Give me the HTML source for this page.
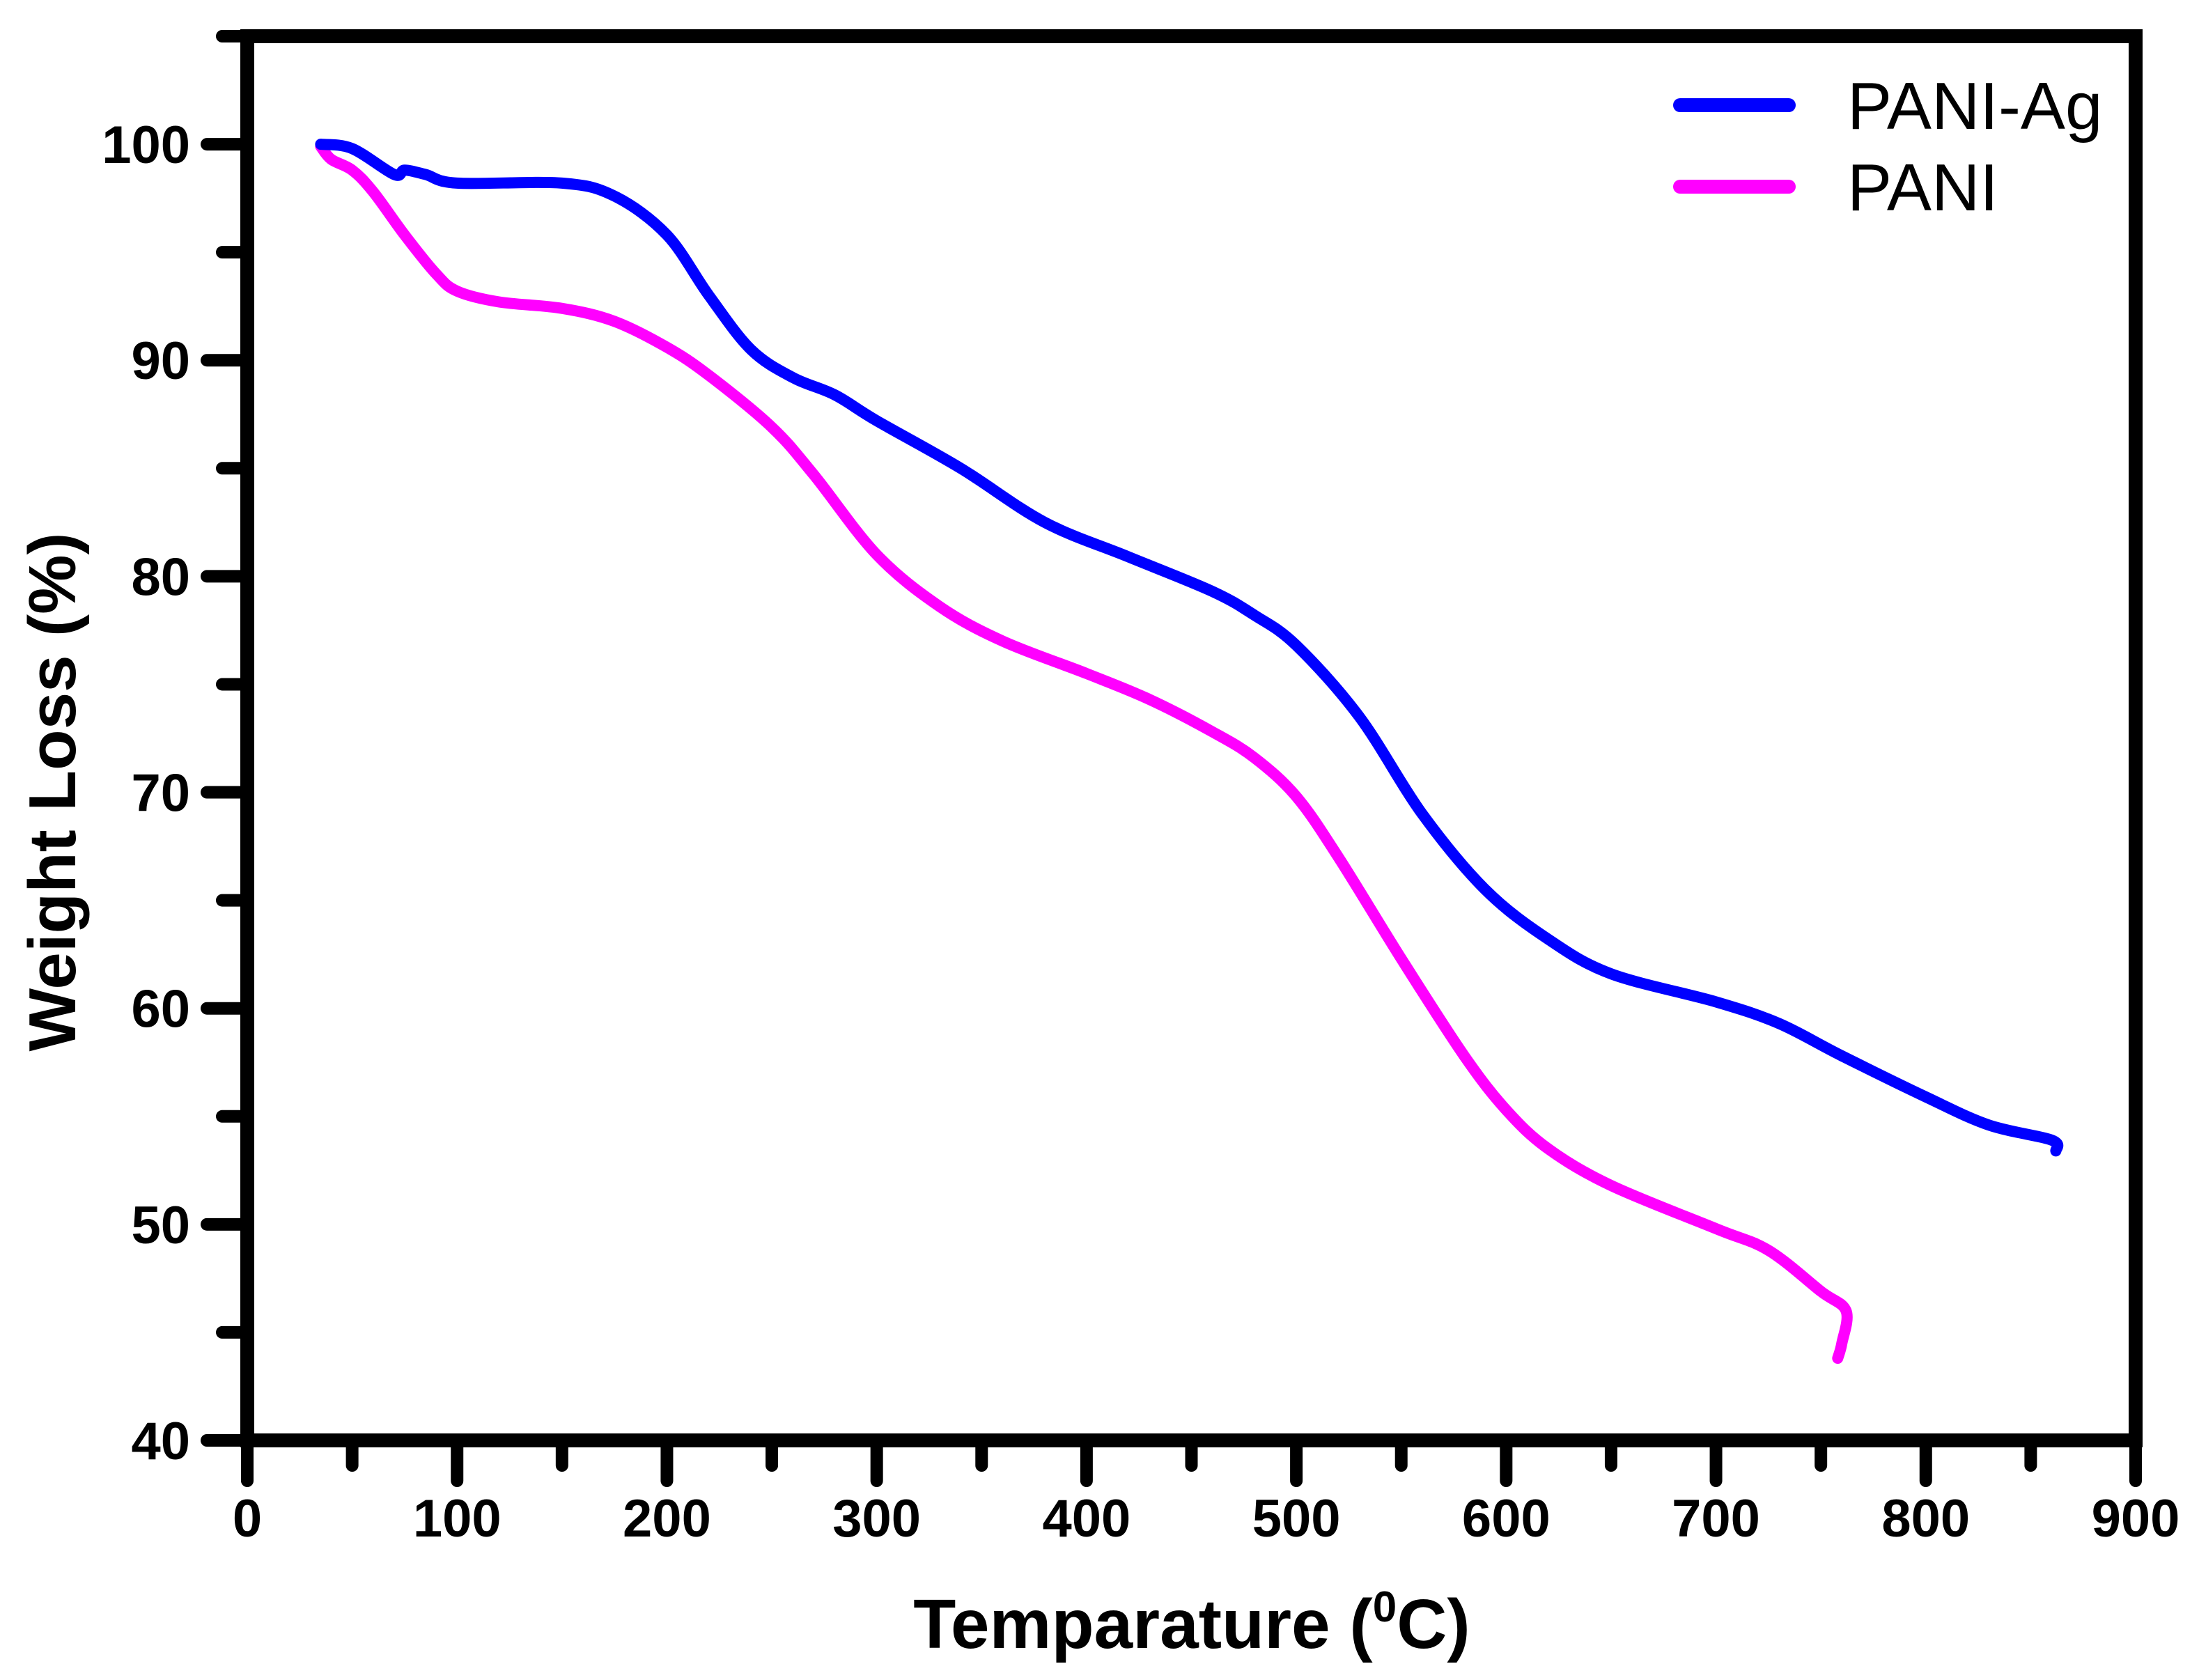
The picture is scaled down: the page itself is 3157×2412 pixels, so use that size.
<!DOCTYPE html>
<html><head><meta charset="utf-8"><style>
html,body{margin:0;padding:0;background:#fff}
svg{display:block}
text{font-family:"Liberation Sans",Arial,sans-serif}
</style></head><body>
<svg id="chart" width="3157" height="2412" viewBox="0 0 3157 2412" xmlns="http://www.w3.org/2000/svg">
<g id="plot"></g>
</svg>
<script>
const xTicks=[0,100,200,300,400,500,600,700,800,900];
const yTicks=[40,50,60,70,80,90,100];
const agT=[35,50,70,75,85,100,150,175,200,220,240,260,280,300,340,380,420,460,480,500,530,560,590,620,650,700,730,760,800,830,860,862];
const agW=[100,99.8,98.6,98.8,98.6,98.2,98.2,97.6,95.8,93,90.5,89.2,88.4,87.2,85,82.5,80.9,79.3,78.2,76.8,73.5,69,65.5,63.2,61.6,60.3,59.3,57.8,55.9,54.6,53.9,53.4];
const paT=[35,40,50,60,75,90,100,120,150,175,200,220,250,270,300,330,360,400,430,460,480,500,520,550,580,600,620,650,700,725,750,762,760,758];
const paW=[99.9,99.3,98.8,97.8,95.8,94,93.2,92.7,92.4,91.8,90.6,89.3,86.9,84.7,81,78.6,77,75.5,74.3,72.8,71.6,69.8,67,62.3,57.8,55.3,53.5,51.8,49.8,48.8,46.9,46,44.5,43.8];

const L=355,R=3066,B=2068,T=52;
const xs=v=>L+(v-0)/(900-0)*(R-L);
const ys=v=>B-(v-40)/(105-40)*(B-T);
const NS='http://www.w3.org/2000/svg';
const g=document.getElementById('plot');
function mk(tag,attrs,parent){const e=document.createElementNS(NS,tag);for(const k in attrs)e.setAttribute(k,attrs[k]);(parent||g).appendChild(e);return e;}

const fr=mk('rect',{x:L,y:T,width:R-L,height:B-T,fill:'none',stroke:'#000','stroke-width':20});



xTicks.forEach((t,i)=>{
  const x=xs(t);
  const tk=mk('line',{x1:x,y1:B,x2:x,y2:B+58,stroke:'#000','stroke-width':18,'stroke-linecap':'round'});
  
  
  if(i<xTicks.length-1){
    const xm=xs(t+50);
    const mt=mk('line',{x1:xm,y1:B,x2:xm,y2:B+36,stroke:'#000','stroke-width':18,'stroke-linecap':'round'});
    
    
  }
  const lb=mk('text',{x:x,y:B+138,'text-anchor':'middle','font-size':76,'font-weight':'bold',fill:'#000'});
  lb.textContent=t;
  
  
});
yTicks.forEach((t,i)=>{
  const y=ys(t);
  const tk=mk('line',{x1:L,y1:y,x2:L-58,y2:y,stroke:'#000','stroke-width':18,'stroke-linecap':'round'});
  
  
  const ym=ys(t+5);
  const mt=mk('line',{x1:L,y1:ym,x2:L-36,y2:ym,stroke:'#000','stroke-width':18,'stroke-linecap':'round'});
  
  
  const lb=mk('text',{x:L-82,y:y+27,'text-anchor':'end','font-size':76,'font-weight':'bold',fill:'#000'});
  lb.textContent=t;
  
  
});

function series(Ts,Ws,color,name){
  const P=Ts.map((t,i)=>[xs(t),ys(Ws[i])]);
  let d='M'+P[0][0].toFixed(1)+','+P[0][1].toFixed(1);
  for(let i=0;i<P.length-1;i++){
    const p0=P[i>0?i-1:i],p1=P[i],p2=P[i+1],p3=P[i+2<P.length?i+2:i+1];
    const c1=[p1[0]+(p2[0]-p0[0])/6,p1[1]+(p2[1]-p0[1])/6];
    const c2=[p2[0]-(p3[0]-p1[0])/6,p2[1]-(p3[1]-p1[1])/6];
    d+=' C'+c1[0].toFixed(1)+','+c1[1].toFixed(1)+' '+c2[0].toFixed(1)+','+c2[1].toFixed(1)+' '+p2[0].toFixed(1)+','+p2[1].toFixed(1);
  }
  const p=mk('path',{d:d,fill:'none',stroke:color,'stroke-width':16,'stroke-linejoin':'round','stroke-linecap':'round'});
  
  
}
series(paT,paW,'#ff00ff','pani-line');
series(agT,agW,'#0000ff','pani-ag-line');

const leg=[['PANI-Ag','#0000ff',151],['PANI','#ff00ff',268]];
leg.forEach(([n,c,y])=>{
  const ln=mk('line',{x1:2412,y1:y,x2:2568,y2:y,stroke:c,'stroke-width':20,'stroke-linecap':'round'});
  
  
  const tx=mk('text',{x:2652,y:y+34,'font-size':96,fill:'#000'});
  tx.textContent=n;
  
  
});

const xt=mk('text',{x:1711,y:2366,'text-anchor':'middle','font-size':100,'font-weight':'bold',fill:'#000'});
xt.innerHTML='Temparature (<tspan font-size="62" dy="-38">0</tspan><tspan dy="38">C)</tspan>';


const yt=mk('text',{x:0,y:0,'text-anchor':'middle','font-size':96,'font-weight':'bold',fill:'#000',transform:'translate(108,1137) rotate(-90)'});
yt.textContent='Weight Loss (%)';


</script>
</body></html>
